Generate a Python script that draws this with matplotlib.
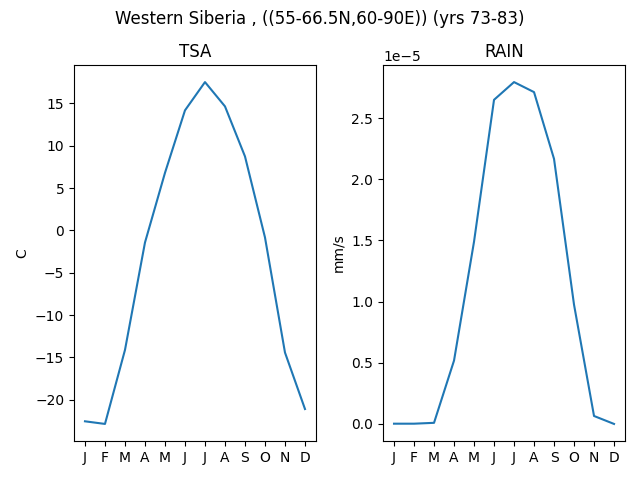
import matplotlib
matplotlib.use('Agg')
import matplotlib.pyplot as plt

months = ['J', 'F', 'M', 'A', 'M', 'J', 'J', 'A', 'S', 'O', 'N', 'D']

# monthly mean 2m air temperature (C)
tsa = [-22.55, -22.86, -14.12, -1.43, 6.8, 14.18, 17.52, 14.65, 8.74, -0.83, -14.43, -21.1]

# monthly mean rain rate (mm/s)
rain = [0.002e-5, 0.002e-5, 0.009e-5, 0.518e-5, 1.49e-5, 2.65e-5,
        2.795e-5, 2.713e-5, 2.167e-5, 0.975e-5, 0.065e-5, 0.0]

fig, (ax1, ax2) = plt.subplots(1, 2, figsize=(6.4, 4.8), dpi=100)
fig.suptitle('Western Siberia , ((55-66.5N,60-90E)) (yrs 73-83)')

x = range(len(months))

ax1.plot(x, tsa)
ax1.set_title('TSA')
ax1.set_ylabel('C')
ax1.set_xticks(list(x))
ax1.set_xticklabels(months)

ax2.plot(x, rain)
ax2.set_title('RAIN')
ax2.set_ylabel('mm/s')
ax2.set_xticks(list(x))
ax2.set_xticklabels(months)

fig.subplots_adjust(left=0.1156, right=0.9766, top=0.8646, bottom=0.0812, wspace=0.277)
plt.savefig('out.png')
